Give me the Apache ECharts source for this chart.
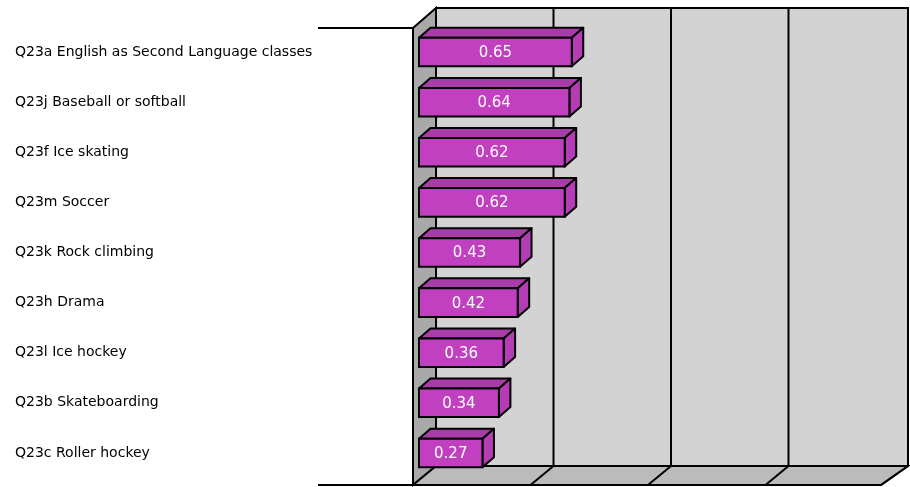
<!DOCTYPE html>
<html>
<head>
<meta charset="utf-8">
<script src="https://cdn.jsdelivr.net/npm/echarts@6/dist/echarts.min.js"></script>
<style>html,body{margin:0;padding:0;background:#fff}#c{width:910px;height:487px}</style>
</head>
<body>
<div id="c"></div>
<script>
const categories = ['Q23a English as Second Language classes', 'Q23j Baseball or softball', 'Q23f Ice skating', 'Q23m Soccer', 'Q23k Rock climbing', 'Q23h Drama', 'Q23l Ice hockey', 'Q23b Skateboarding', 'Q23c Roller hockey'];
const values = [0.65, 0.64, 0.62, 0.62, 0.43, 0.42, 0.36, 0.34, 0.27];
const axisMin = 0, axisMax = 2, axisInterval = 0.5;
const gridTicks = [0.5, 1, 1.5];

const chart = echarts.init(document.getElementById('c'), null, {renderer: 'canvas'});
const FRONT = -6, BACK = 17, DEPTH_Y = -19;

function wallsRender(params, api) {
  const cs = params.coordSys;
  const L = api.coord([axisMin, 0])[0];
  const Rv = api.coord([axisMax, 0])[0];
  const T = cs.y + 1, B = cs.y + cs.height + 7;
  const fl = L + FRONT, fr = Rv + FRONT - 2, bl = L + BACK, br = Rv + BACK + 2;
  const bt = T + DEPTH_Y - 1, bb = B + DEPTH_Y;
  const blk = {stroke: '#000', lineWidth: 2, fill: null};
  const children = [
    {type: 'polygon', shape: {points: [[bl, bt], [br, bt], [br, bb], [bl, bb]]}, style: {fill: '#d3d3d3', stroke: null}},
    {type: 'polygon', shape: {points: [[fl, T], [bl, bt], [bl, bb], [fl, B]]}, style: {fill: '#a9a9a9', stroke: '#000', lineWidth: 2}},
    {type: 'polygon', shape: {points: [[fl, B], [bl, bb], [br, bb], [fr, B]]}, style: {fill: '#bbbbbb', stroke: '#000', lineWidth: 2}}
  ];
  gridTicks.forEach(v => {
    const x = api.coord([v, 0])[0];
    children.push({type: 'line', shape: {x1: x + BACK, y1: bt, x2: x + BACK, y2: bb}, style: blk});
    children.push({type: 'line', shape: {x1: x + FRONT, y1: B, x2: x + BACK, y2: bb}, style: blk});
  });
  children.push({type: 'polyline', shape: {points: [[bl, bb], [bl, bt], [br, bt], [br, bb], [fr, B]]}, style: blk});
  children.push({type: 'line', shape: {x1: fl - 95, y1: T, x2: fl, y2: T}, style: blk});
  children.push({type: 'line', shape: {x1: fl - 95, y1: B, x2: fr, y2: B}, style: blk});
  return {type: 'group', children: children};
}

function barRender(params, api) {
  const v = api.value(0), ci = api.value(1);
  const p0 = api.coord([axisMin, ci]);
  const p1 = api.coord([v, ci]);
  const bh = api.size([0, 1])[1] * 0.57;
  const dx = 11.5, dy = -10;
  const x = p0[0], y = p0[1] - bh / 2, w = p1[0] - p0[0], h = bh;
  return {
    type: 'group',
    children: [
      {type: 'polygon', shape: {points: [[x, y], [x + dx, y + dy], [x + w + dx, y + dy], [x + w, y]]}, style: {fill: '#a83ca8', stroke: '#000', lineWidth: 2, lineJoin: 'round'}},
      {type: 'polygon', shape: {points: [[x + w, y], [x + w + dx, y + dy], [x + w + dx, y + h + dy], [x + w, y + h]]}, style: {fill: '#b43cb4', stroke: '#000', lineWidth: 2, lineJoin: 'round'}},
      {type: 'rect', shape: {x: x, y: y, width: w, height: h}, style: {fill: '#c040c0', stroke: '#000', lineWidth: 2}},
      {type: 'text', style: {x: x + w / 2, y: y + h / 2 + 1, text: v.toFixed(2), fill: '#fff', font: '15px "DejaVu Sans", sans-serif', align: 'center', verticalAlign: 'middle'}}
    ]
  };
}

chart.setOption({
  animation: false,
  grid: {left: 419, right: 21, top: 27, bottom: 9, containLabel: false},
  xAxis: {type: 'value', min: axisMin, max: axisMax, interval: axisInterval, show: false},
  yAxis: {
    type: 'category', data: categories, inverse: true,
    axisLine: {show: false}, axisTick: {show: false}, splitLine: {show: false},
    axisLabel: {align: 'left', margin: 404, color: '#000', fontSize: 14, fontFamily: '"DejaVu Sans", sans-serif', padding: [0, 0, 7, 0]}
  },
  series: [
    {type: 'custom', renderItem: wallsRender, data: [[0, 0]], z: 1, silent: true, clip: false},
    {type: 'custom', renderItem: barRender, data: values.map((v, i) => [v, i]), encode: {x: 0, y: 1}, z: 2, clip: false}
  ]
});
</script>
</body>
</html>
